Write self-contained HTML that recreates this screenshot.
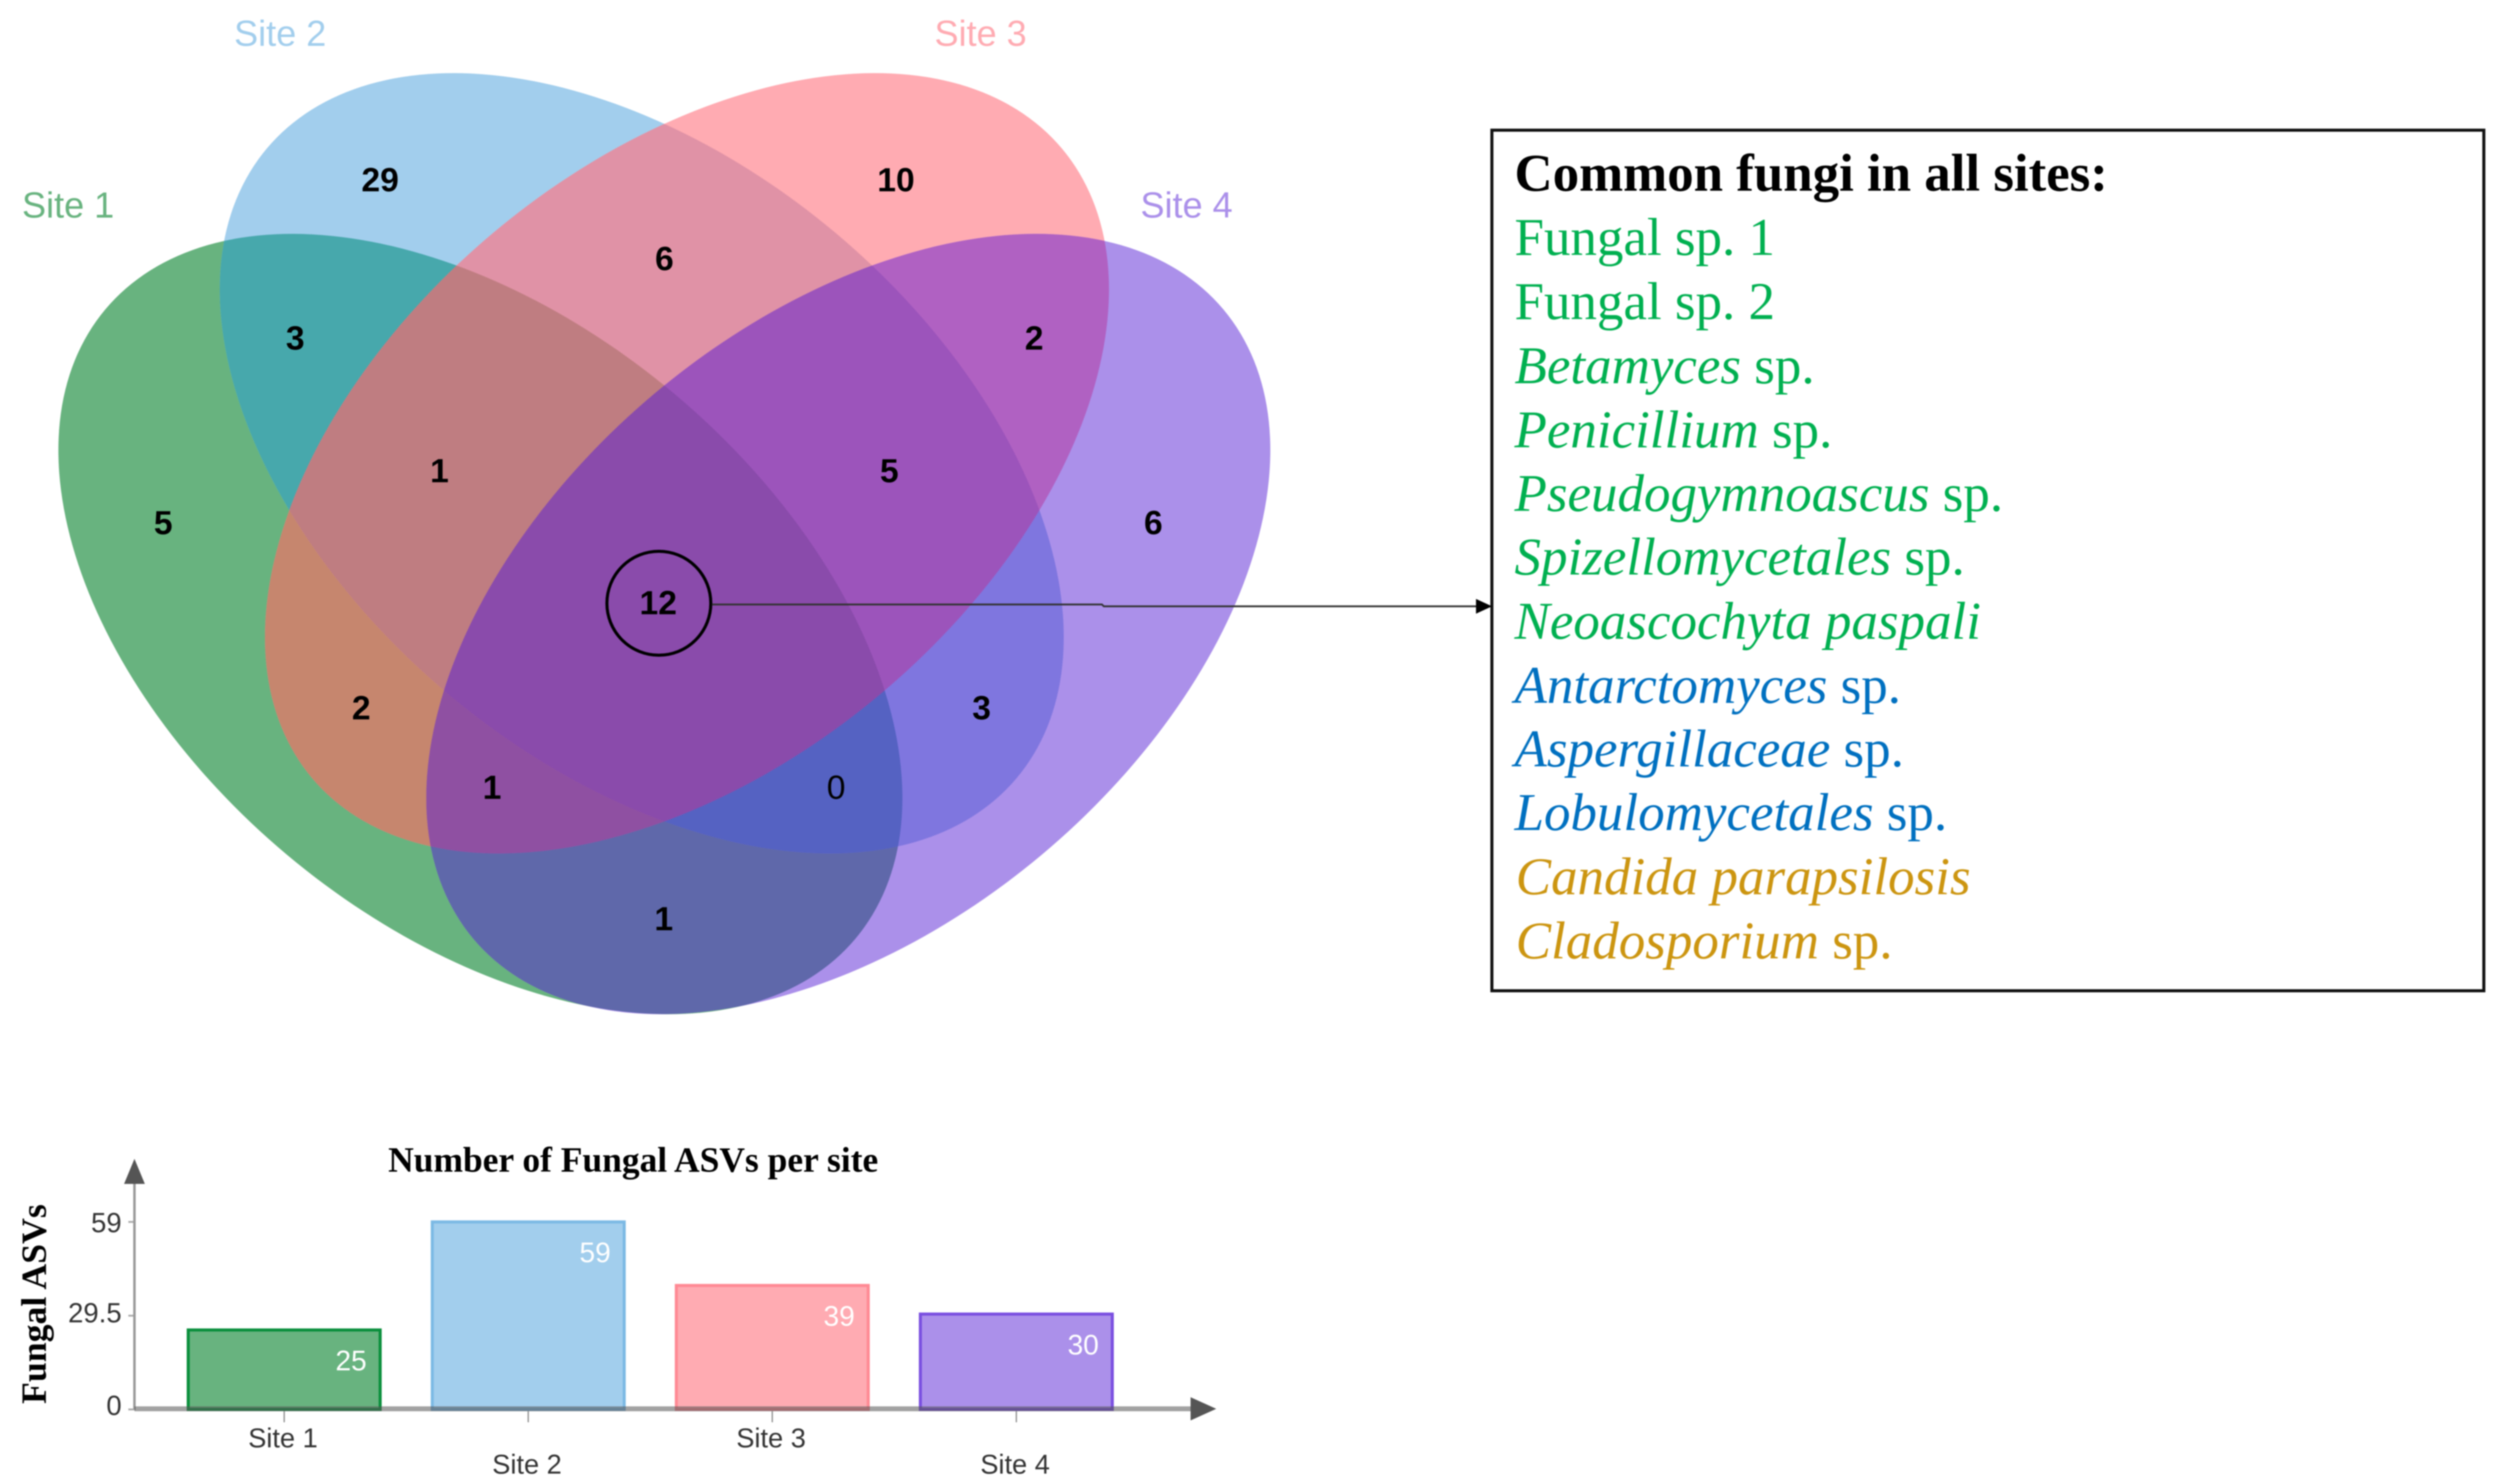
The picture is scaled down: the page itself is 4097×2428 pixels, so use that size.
<!DOCTYPE html>
<html lang="en">
<head>
<meta charset="utf-8">
<title>Fungal ASV Venn diagram</title>
<style>
html,body{margin:0;padding:0;background:#fff;}
svg{display:block;filter:blur(1px);}
.site{font:58px "Liberation Sans",sans-serif;}
.count{font:bold 55px "Liberation Sans",sans-serif;text-anchor:middle;dominant-baseline:central;fill:#000;}
.fungus{font:86.7px "Liberation Serif",serif;}
.fungus .it{font-style:italic;}
</style>
</head>
<body>
<svg id="figure" xmlns="http://www.w3.org/2000/svg" width="4097" height="2428" viewBox="0 0 4097 2428">
<rect width="4097" height="2428" fill="#fff"/>
<defs>
<clipPath id="cG"><ellipse cx="786" cy="1021" rx="801" ry="492.6" transform="rotate(40 786 1021)"/></clipPath>
<clipPath id="cB"><ellipse cx="1050" cy="758" rx="801" ry="492.6" transform="rotate(40 1050 758)"/></clipPath>
<clipPath id="cR"><ellipse cx="1124" cy="758" rx="801" ry="492.6" transform="rotate(-40 1124 758)"/></clipPath>
<clipPath id="cP"><ellipse cx="1388" cy="1021" rx="801" ry="492.6" transform="rotate(-40 1388 1021)"/></clipPath>
</defs>

<g>
<rect width="2200" height="1800" fill="#68b37f" clip-path="url(#cG)"/>
<rect width="2200" height="1800" fill="#a2ceed" clip-path="url(#cB)"/>
<rect width="2200" height="1800" fill="#ffabb2" clip-path="url(#cR)"/>
<rect width="2200" height="1800" fill="#ab90ea" clip-path="url(#cP)"/>
<g clip-path="url(#cG)"><rect width="2200" height="1800" fill="#47a8ac" clip-path="url(#cB)"/></g>
<g clip-path="url(#cG)"><rect width="2200" height="1800" fill="#c6866e" clip-path="url(#cR)"/></g>
<g clip-path="url(#cG)"><rect width="2200" height="1800" fill="#5f68aa" clip-path="url(#cP)"/></g>
<g clip-path="url(#cB)"><rect width="2200" height="1800" fill="#e092a6" clip-path="url(#cR)"/></g>
<g clip-path="url(#cB)"><rect width="2200" height="1800" fill="#7f76df" clip-path="url(#cP)"/></g>
<g clip-path="url(#cR)"><rect width="2200" height="1800" fill="#b061c2" clip-path="url(#cP)"/></g>
<g clip-path="url(#cG)"><g clip-path="url(#cB)"><rect width="2200" height="1800" fill="#bf7d81" clip-path="url(#cR)"/></g></g>
<g clip-path="url(#cG)"><g clip-path="url(#cB)"><rect width="2200" height="1800" fill="#5562c2" clip-path="url(#cP)"/></g></g>
<g clip-path="url(#cG)"><g clip-path="url(#cR)"><rect width="2200" height="1800" fill="#8f50a2" clip-path="url(#cP)"/></g></g>
<g clip-path="url(#cB)"><g clip-path="url(#cR)"><rect width="2200" height="1800" fill="#9c54bb" clip-path="url(#cP)"/></g></g>
<g clip-path="url(#cG)"><g clip-path="url(#cB)"><g clip-path="url(#cR)"><rect width="2200" height="1800" fill="#8a4bab" clip-path="url(#cP)"/></g></g></g>

<text class="site" x="36" y="356" style="font-size:59px" fill="#68b37f">Site 1</text>
<text class="site" x="383" y="75" style="font-size:59px" fill="#a2ceed">Site 2</text>
<text class="site" x="1529" y="75" style="font-size:59px" fill="#ffabb2">Site 3</text>
<text class="site" x="1866" y="356" style="font-size:59px" fill="#ab90ea">Site 4</text>

<text class="count" x="622" y="294">29</text>
<text class="count" x="1466" y="294">10</text>
<text class="count" x="483" y="553">3</text>
<text class="count" x="1087" y="423">6</text>
<text class="count" x="1692" y="553">2</text>
<text class="count" x="267" y="855">5</text>
<text class="count" x="719" y="770">1</text>
<text class="count" x="1455" y="770">5</text>
<text class="count" x="1887" y="855">6</text>
<text class="count" x="1077" y="986">12</text>
<text class="count" x="591" y="1158">2</text>
<text class="count" x="1606" y="1158">3</text>
<text class="count" x="805" y="1288">1</text>
<text class="count" x="1368" y="1288" style="font-weight:normal">0</text>
<text class="count" x="1086" y="1503">1</text>

<ellipse cx="1078" cy="987" rx="85" ry="85" fill="none" stroke="#000" stroke-width="5"/>
<polyline points="1165,989 1803,989 1806,992 2420,992" fill="none" stroke="#333" stroke-width="3"/>
<polygon points="2441,992 2415,980 2415,1004" fill="#000"/>
</g>

<g>
<rect x="2441" y="213" width="1623" height="1408" fill="#fff" stroke="#111" stroke-width="5"/>
<polygon points="2441,992 2415,980 2415,1004" fill="#000"/>
<text class="fungus" x="2478" y="312" style="font-weight:bold;font-size:86.5px" fill="#000">Common fungi in all sites:</text>
<text class="fungus" x="2478" y="417" fill="#00b050">Fungal sp. 1</text>
<text class="fungus" x="2478" y="522" fill="#00b050">Fungal sp. 2</text>
<text class="fungus" x="2478" y="627" fill="#00b050"><tspan class="it">Betamyces</tspan> sp.</text>
<text class="fungus" x="2478" y="732" fill="#00b050"><tspan class="it">Penicillium</tspan> sp.</text>
<text class="fungus" x="2478" y="836" fill="#00b050"><tspan class="it">Pseudogymnoascus</tspan> sp.</text>
<text class="fungus" x="2478" y="940" fill="#00b050"><tspan class="it">Spizellomycetales</tspan> sp.</text>
<text class="fungus" x="2478" y="1045" fill="#00b050"><tspan class="it">Neoascochyta paspali</tspan></text>
<text class="fungus" x="2478" y="1150" fill="#0070c0"><tspan class="it">Antarctomyces</tspan> sp.</text>
<text class="fungus" x="2478" y="1254" fill="#0070c0"><tspan class="it">Aspergillaceae</tspan> sp.</text>
<text class="fungus" x="2478" y="1358" fill="#0070c0"><tspan class="it">Lobulomycetales</tspan> sp.</text>
<text class="fungus" x="2480" y="1463" fill="#cc9510"><tspan class="it">Candida parapsilosis</tspan></text>
<text class="fungus" x="2480" y="1568" fill="#cc9510"><tspan class="it">Cladosporium</tspan> sp.</text>
</g>

<g id="bar-chart">
<text x="1036" y="1917" text-anchor="middle" style="font:bold 58px 'Liberation Serif',serif" fill="#000">Number of Fungal ASVs per site</text>
<text transform="translate(75 2297) rotate(-90)" style="font:bold 58.5px 'Liberation Serif',serif" fill="#000">Fungal ASVs</text>
</g>

<script>
const categories = ['Site 1', 'Site 2', 'Site 3', 'Site 4'];
const asvCounts = [25, 59, 39, 30];
const yTickValues = [0, 29.5, 59];
const yTickLabels = ['0', '29.5', '59'];

const barFills = ['#68b37f', '#a2ceed', '#ffabb2', '#ab90ea'];
const barStrokes = ['#0a8f3c', '#7cb9e4', '#ff8a94', '#7a4fe0'];
const SVG_NS = 'http://www.w3.org/2000/svg';
const chart = document.getElementById('bar-chart');
const xAxis = function (i) { return 465 + i * 399.3; };
const yAxis = function (v) { return 2306 - v * 5.2; };
const BAR_WIDTH = 314;

function make(tag, attrs, text) {
  const el = document.createElementNS(SVG_NS, tag);
  Object.keys(attrs).forEach(function (k) { el.setAttribute(k, attrs[k]); });
  if (text !== undefined) el.textContent = text;
  chart.appendChild(el);
  return el;
}

categories.forEach(function (name, i) {
  const top = yAxis(asvCounts[i]);
  const bar = make('rect', {
    x: xAxis(i) - BAR_WIDTH / 2, y: top, width: BAR_WIDTH, height: yAxis(0) - top,
    fill: barFills[i], stroke: barStrokes[i], 'stroke-width': 5
  });
  
  

  const value = make('text', {
    x: xAxis(i) + BAR_WIDTH / 2 - 22, y: top + 66, 'text-anchor': 'end',
    fill: '#fff', style: "font:46px 'Liberation Sans',sans-serif"
  }, String(asvCounts[i]));
  
  

  const tick = make('line', {
    x1: xAxis(i), x2: xAxis(i), y1: 2309, y2: 2327, stroke: '#888', 'stroke-width': 2
  });
  
  

  const label = make('text', {
    x: xAxis(i) - 2, y: i % 2 === 0 ? 2368 : 2411, 'text-anchor': 'middle',
    fill: '#333', style: "font:44.5px 'Liberation Sans',sans-serif"
  }, name);
  
  
});

const yLabelNudge = [9, 11, 17];
yTickValues.forEach(function (v, i) {
  const tick = make('line', {
    x1: 210, x2: 222, y1: yAxis(v), y2: yAxis(v), stroke: '#aaa', 'stroke-width': 3
  });
  
  

  const label = make('text', {
    x: 199, y: yAxis(v) + yLabelNudge[i], 'text-anchor': 'end',
    fill: '#333', style: "font:45px 'Liberation Sans',sans-serif"
  }, yTickLabels[i]);
  
  
});

const yLine = make('line', { x1: 220, x2: 220, y1: 1930, y2: 2306, stroke: '#999', 'stroke-width': 4 });



const xLine = make('line', { x1: 220, x2: 1955, y1: 2305, y2: 2305, stroke: '#555', 'stroke-opacity': 0.55, 'stroke-width': 8 });



const yArrow = make('polygon', { points: '220,1896 203,1937 237,1937', fill: '#555' });



const xArrow = make('polygon', { points: '1990,2305 1948,2286 1948,2324', fill: '#555' });


</script>
</svg>
</body>
</html>
